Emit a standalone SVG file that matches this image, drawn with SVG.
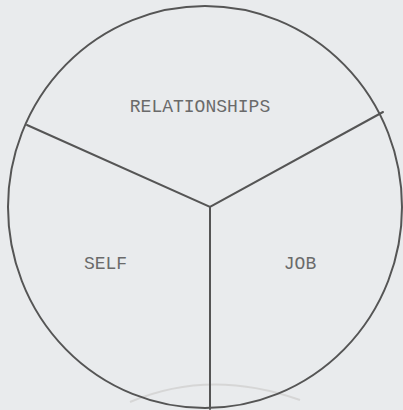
<svg xmlns="http://www.w3.org/2000/svg" width="403" height="410" viewBox="0 0 403 410">
<style>
.ln{fill:none;stroke:#555;stroke-width:2;stroke-linecap:round}
.lb{font-family:"Liberation Mono","DejaVu Sans Mono",monospace;font-size:18px;fill:#6a6a6a;text-anchor:middle}
</style>
<rect width="403" height="410" fill="#e9ebed"/>
<path d="M130,402 Q210,368 300,400" fill="none" stroke="#d6d6d6" stroke-width="2"/>
<g id="circle"><ellipse class="ln" cx="205" cy="207" rx="197" ry="201"/></g>
<g id="connectors">
<polyline class="ln" points="27,125 210,207 383,112"/>
<line class="ln" x1="210" y1="207" x2="210" y2="409"/>
</g>
<g id="relationships"><text class="lb" x="200" y="112">RELATIONSHIPS</text></g>
<g id="self"><text class="lb" x="105.5" y="269">SELF</text></g>
<g id="job"><text class="lb" x="300" y="269">JOB</text></g>
</svg>
